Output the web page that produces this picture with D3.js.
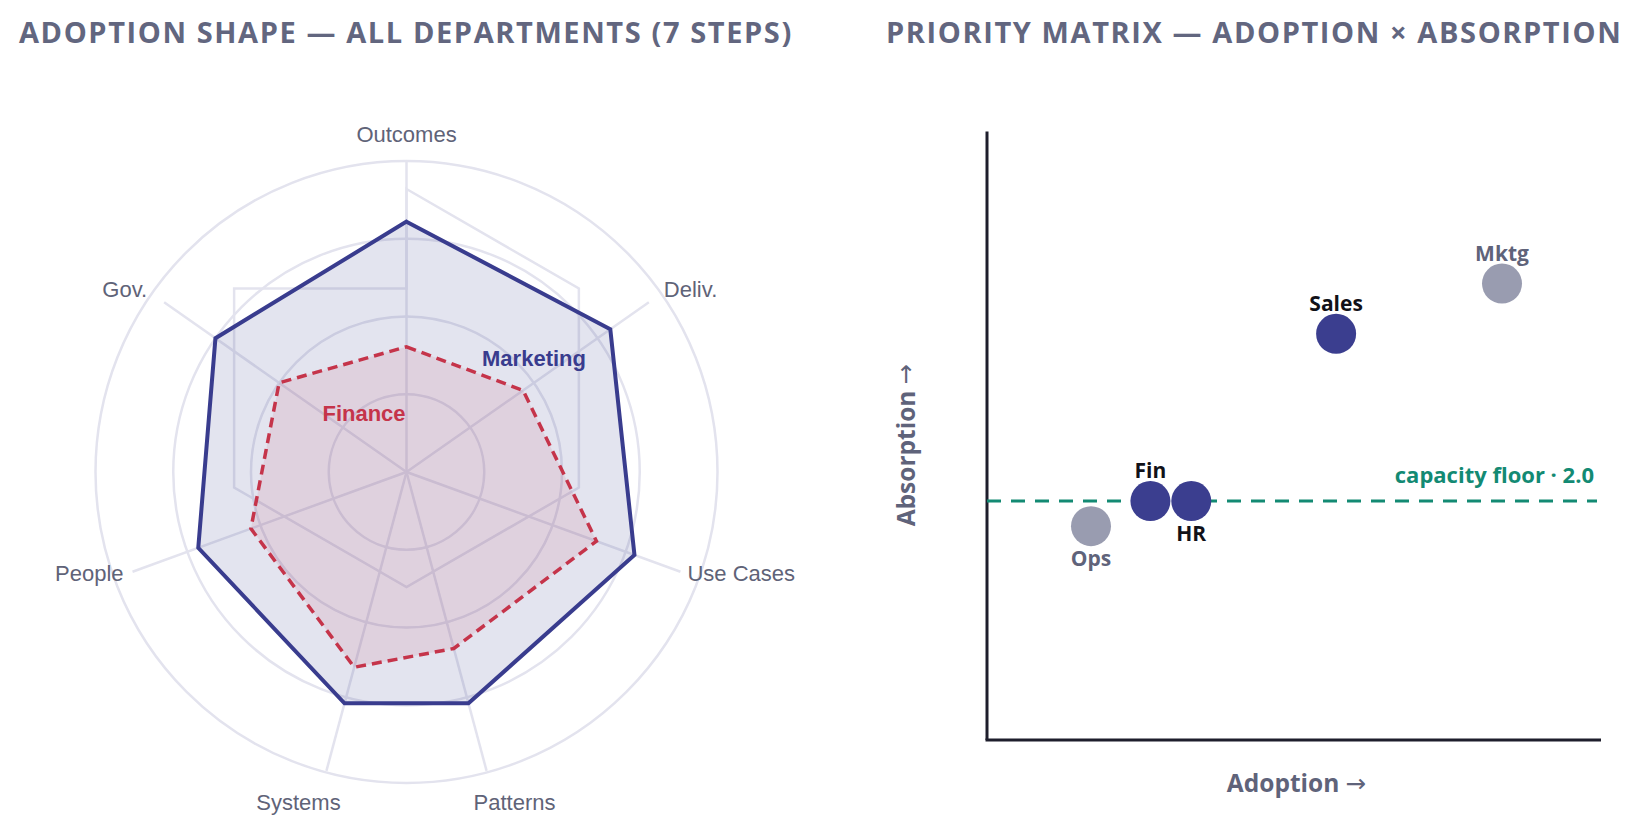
<!DOCTYPE html>
<html>
<head lang="en">
    <meta charset="UTF-8">
    <title>Adoption shape / priority matrix</title>
    <style>
        body { margin: 0; background: #fff; }
        svg text { font-family: "Open Sans", "Noto Sans", sans-serif; }
        .title { font-weight: 700; font-size: 29px; letter-spacing: 1.6px; fill: #62667f; }
        .axlab { font-family: "Liberation Sans", Arial, sans-serif !important; font-size: 22px; fill: #5f6378; }
        .arrow { font-family: "DejaVu Sans", sans-serif; font-weight: 400; }
    </style>
</head>
<body>
<div id="main"></div>

<script src="https://cdn.jsdelivr.net/npm/d3@7/dist/d3.min.js"></script>
<script>
    // radar data (0..4 scale)
    var steps = ["Outcomes", "Deliv.", "Use Cases", "Patterns", "Systems", "People", "Gov."];
    var marketing = [3.22, 3.2, 3.12, 3.08, 3.08, 2.85, 3.0];
    var finance = [1.61, 1.83, 2.6, 2.35, 2.6, 2.13, 2.0];
    var ringLevels = [1, 2, 3, 4];

    // priority matrix data
    var depts = ["Ops", "Fin", "HR", "Sales", "Mktg"];
    var adoption = [0.84, 1.32, 1.65, 2.82, 4.16];
    var absorption = [1.79, 2.0, 2.0, 3.4, 3.82];
    var highlight = [false, true, true, true, false];
    var labelBelow = [true, false, true, false, false];
    var capacityFloor = 2.0;

    var W = 1649, H = 834;
    var svg = d3.select("#main").append("svg")
        .attr("width", W)
        .attr("height", H);

    //タイトル
    svg.append("text").attr("class", "title").attr("x", 19).attr("y", 43)
        .text("ADOPTION SHAPE — ALL DEPARTMENTS (7 STEPS)");
    svg.append("text").attr("class", "title").attr("x", 886).attr("y", 43)
        .text("PRIORITY MATRIX — ADOPTION × ABSORPTION");

    // ---------- radar ----------
    var cx = 406.5, cy = 472, R = 311;
    var r = d3.scaleLinear().domain([0, 4]).range([0, R]);
    var spread = 55; // degrees between neighbouring steps, mirrored around the top
    var angle = function(i){
        var k = i <= 3 ? i : i - steps.length;
        return k * spread * Math.PI / 180;
    };
    var radar = svg.append("g").attr("transform", "translate(" + cx + "," + cy + ")");
    var gridColor = "#e3e3ee";

    radar.selectAll("circle.ring").data(ringLevels).enter().append("circle")
        .attr("class", "ring")
        .attr("r", function(d){ return r(d); })
        .attr("fill", "none")
        .attr("stroke", gridColor)
        .attr("stroke-width", 2.5);

    // spokes end on a slightly flattened ellipse
    var ex = 0.93 * R, ey = R;
    var spokeEnd = function(i){
        var a = angle(i), ux = Math.sin(a), uy = -Math.cos(a);
        var k = 1 / Math.sqrt((ux / ex) * (ux / ex) + (uy / ey) * (uy / ey));
        return [ux * k, uy * k, ux, uy];
    };
    radar.selectAll("line.spoke").data(steps).enter().append("line")
        .attr("class", "spoke")
        .attr("x1", 0).attr("y1", 0)
        .attr("x2", function(d, i){ return spokeEnd(i)[0]; })
        .attr("y2", function(d, i){ return spokeEnd(i)[1]; })
        .attr("stroke", gridColor)
        .attr("stroke-width", 2.5);

    // faint hexagon guide behind the shapes
    var hexR = 0.64 * R, hexOff = -0.27 * R;
    var hex = d3.range(6).map(function(j){
        var a = j * Math.PI / 3;
        return [hexR * Math.sin(a), hexOff - hexR * Math.cos(a)];
    });
    hex.push([0, hex[5][1]]);
    radar.append("path")
        .attr("d", d3.line().curve(d3.curveLinearClosed)(hex))
        .attr("fill", "none")
        .attr("stroke", gridColor)
        .attr("stroke-width", 2.5);

    var shape = d3.lineRadial()
        .angle(function(d, i){ return angle(i); })
        .radius(function(d){ return r(d); })
        .curve(d3.curveLinearClosed);

    radar.append("path").datum(marketing)
        .attr("d", shape)
        .attr("fill", "rgba(58,61,143,0.14)")
        .attr("stroke", "#393c8e")
        .attr("stroke-width", 4)
        .attr("stroke-linejoin", "miter");

    radar.append("path").datum(finance)
        .attr("d", shape)
        .attr("fill", "rgba(197,52,74,0.10)")
        .attr("stroke", "#c5344a")
        .attr("stroke-width", 3.5)
        .attr("stroke-dasharray", "10,6");

    // step labels
    radar.selectAll("text.axlab").data(steps).enter().append("text")
        .attr("class", "axlab")
        .attr("dominant-baseline", "central")
        .each(function(d, i){
            var e = spokeEnd(i), t = d3.select(this);
            if (Math.abs(e[2]) < 0.3) {
                t.attr("text-anchor", "middle")
                    .attr("x", e[0] + e[2] * 108)
                    .attr("y", e[3] < 0 ? e[1] - 27 : e[1] + 32);
            } else {
                var pad = e[3] < 0 ? 17 : 9;
                t.attr("text-anchor", e[2] > 0 ? "start" : "end")
                    .attr("x", e[0] + (e[2] > 0 ? pad - 2 : -pad))
                    .attr("y", e[3] < 0 ? e[1] - 13 : e[1] + 2);
            }
        })
        .text(function(d){ return d; });

    radar.append("text")
        .attr("x", 127.5).attr("y", -114)
        .attr("text-anchor", "middle").attr("dominant-baseline", "central")
        .style("font-family", "'Liberation Sans', Arial, sans-serif")
        .style("font-weight", 700).style("font-size", "22px")
        .attr("fill", "#393c8e")
        .text("Marketing");
    radar.append("text")
        .attr("x", -42.5).attr("y", -59)
        .attr("text-anchor", "middle").attr("dominant-baseline", "central")
        .style("font-family", "'Liberation Sans', Arial, sans-serif")
        .style("font-weight", 700).style("font-size", "22px")
        .attr("fill", "#c5344a")
        .text("Finance");

    // ---------- priority matrix ----------
    var x = d3.scaleLinear().domain([0, 5]).range([987, 1606]);
    var y = d3.scaleLinear().domain([0, 5]).range([740, 142.6]);
    var mx = svg.append("g");
    var ink = "#1e1e2c", muted = "#5f637a";

    mx.append("line")
        .attr("x1", x(0)).attr("x2", x(0))
        .attr("y1", y(0)).attr("y2", y(5) - 11)
        .attr("stroke", ink).attr("stroke-width", 3);
    mx.append("line")
        .attr("x1", x(0) - 1.5).attr("x2", x(5) - 5)
        .attr("y1", y(0)).attr("y2", y(0))
        .attr("stroke", ink).attr("stroke-width", 3);

    mx.append("line")
        .attr("x1", x(0)).attr("x2", x(5) - 9)
        .attr("y1", y(capacityFloor)).attr("y2", y(capacityFloor))
        .attr("stroke", "#138a73").attr("stroke-width", 3)
        .attr("stroke-dasharray", "14,10");
    mx.append("text")
        .attr("x", x(5) - 12).attr("y", y(capacityFloor) - 18)
        .attr("text-anchor", "end")
        .style("font-weight", 700).style("font-size", "22px")
        .attr("fill", "#138a73")
        .text("capacity floor · " + capacityFloor.toFixed(1));

    mx.selectAll("circle.dept").data(depts).enter().append("circle")
        .attr("class", "dept")
        .attr("cx", function(d, i){ return x(adoption[i]); })
        .attr("cy", function(d, i){ return y(absorption[i]); })
        .attr("r", 20)
        .attr("fill", function(d, i){ return highlight[i] ? "#3b3e8f" : "#999cb0"; });

    mx.selectAll("text.dept").data(depts).enter().append("text")
        .attr("class", "dept")
        .attr("x", function(d, i){ return x(adoption[i]); })
        .attr("y", function(d, i){ return y(absorption[i]) + (labelBelow[i] ? 40 : -23); })
        .attr("text-anchor", "middle")
        .style("font-weight", 700).style("font-size", "21px")
        .attr("fill", function(d, i){ return highlight[i] ? "#111118" : muted; })
        .text(function(d){ return d; });

    var xTitle = mx.append("text")
        .attr("x", (x(0) + x(5)) / 2).attr("y", 792)
        .attr("text-anchor", "middle")
        .style("font-weight", 700).style("font-size", "24.5px")
        .attr("fill", muted);
    xTitle.append("tspan").text("Adoption ");
    xTitle.append("tspan").attr("class", "arrow").text("→");

    var yTitle = mx.append("text")
        .attr("transform", "translate(905," + 445 + ") rotate(-90)")
        .attr("text-anchor", "middle").attr("dominant-baseline", "central")
        .style("font-weight", 700).style("font-size", "24.5px")
        .attr("fill", muted);
    yTitle.append("tspan").text("Absorption ");
    yTitle.append("tspan").attr("class", "arrow").text("→");
</script>
</body>
</html>
